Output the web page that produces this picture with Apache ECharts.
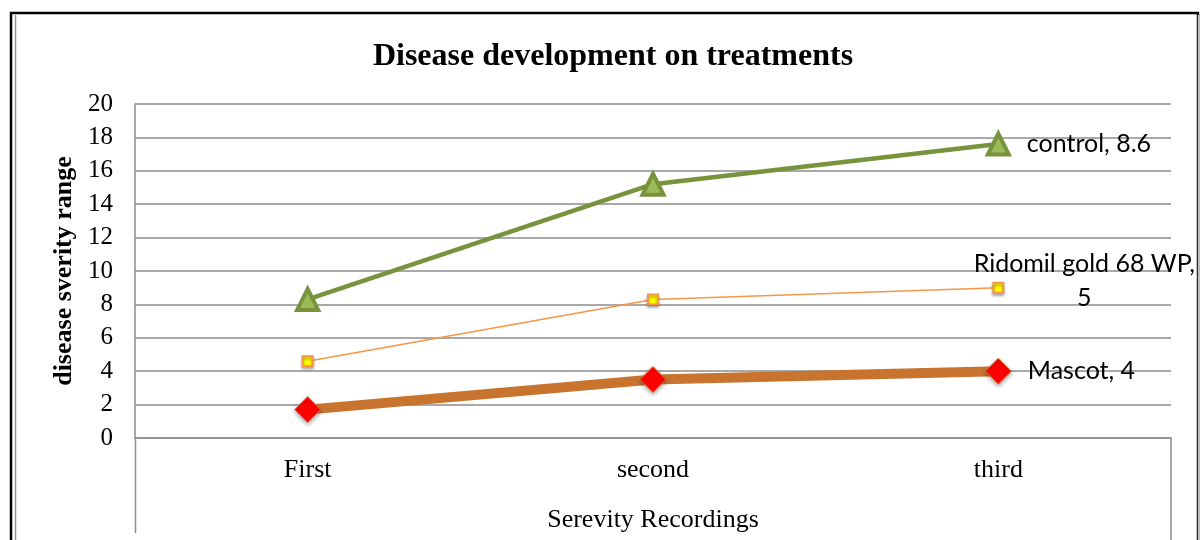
<!DOCTYPE html>
<html>
<head>
<meta charset="utf-8">
<script src="https://cdn.jsdelivr.net/npm/echarts@6/dist/echarts.min.js"></script>
<style>
  html, body { margin: 0; padding: 0; background: #fff; }
  #chart { width: 1200px; height: 540px; }
</style>
</head>
<body>
<div id="chart"></div>
<script>
// categories and values
var categories = ["First", "second", "third"];
var controlData = [8.3, 15.2, 17.6];
var ridomilData = [4.6, 8.3, 9.0];
var mascotData = [1.7, 3.5, 4.0];
var yTicks = { min: 0, max: 20, interval: 2 };

var chart = echarts.init(document.getElementById("chart"));

var serif = "Liberation Serif";
var sans = "Lato";
var gridColor = "#8c8c8c";

function endLabel(opts) {
  return Object.assign({
    show: true,
    position: "right",
    distance: 16,
    fontFamily: sans,
    fontSize: 25,
    color: "#000"
  }, opts);
}

chart.setOption({
  backgroundColor: "#fff",
  animation: false,
  title: {
    text: "Disease development on treatments",
    left: 608,
    top: 36,
    textAlign: "center",
    textStyle: {
      fontFamily: serif,
      fontWeight: "bold",
      fontSize: 32,
      color: "#000"
    }
  },
  grid: {
    left: 135,
    right: 29,
    top: 104,
    bottom: 102
  },
  xAxis: {
    type: "category",
    data: categories,
    boundaryGap: true,
    name: "Serevity Recordings",
    nameLocation: "middle",
    nameGap: 69,
    nameTextStyle: { fontFamily: serif, fontSize: 26, color: "#000" },
    axisLine: { show: true, lineStyle: { color: gridColor, width: 1.5 } },
    axisTick: { show: false },
    axisLabel: { margin: 19, fontFamily: serif, fontSize: 26, color: "#000" },
    splitLine: { show: false }
  },
  yAxis: {
    type: "value",
    min: yTicks.min,
    max: yTicks.max,
    interval: yTicks.interval,
    name: "disease sverity range",
    nameLocation: "middle",
    nameGap: 58,
    nameTextStyle: { fontFamily: serif, fontSize: 26, fontWeight: "bold", color: "#000" },
    axisLine: { show: true, lineStyle: { color: gridColor, width: 1.5 } },
    axisTick: { show: false },
    axisLabel: { margin: 22, fontFamily: serif, fontSize: 25, color: "#000" },
    splitLine: { show: true, lineStyle: { color: gridColor, width: 1.5 } }
  },
  graphic: [
    // chart frame
    { type: "rect", shape: { x: 11, y: 13, width: 1187, height: 540 }, style: { fill: "none", stroke: "#000", lineWidth: 2.5 }, z: 100 },
    { type: "line", shape: { x1: 15.5, y1: 15, x2: 15.5, y2: 540 }, style: { stroke: "#999", lineWidth: 1.5 }, z: 100 },
    { type: "line", shape: { x1: 1198.5, y1: 15, x2: 1198.5, y2: 540 }, style: { stroke: "#bbb", lineWidth: 1.5 }, z: 100 },
    // axis box below the plot
    { type: "line", shape: { x1: 135.5, y1: 438, x2: 135.5, y2: 533 }, style: { stroke: gridColor, lineWidth: 1.5 }, z: 100 },
    { type: "line", shape: { x1: 1171, y1: 438, x2: 1171, y2: 540 }, style: { stroke: gridColor, lineWidth: 1.5 }, z: 100 }
  ],
  series: [
    {
      name: "Mascot",
      type: "line",
      data: mascotData,
      symbol: "diamond",
      symbolSize: 26,
      lineStyle: { color: "#c8742f", width: 10 },
      itemStyle: {
        color: "#ff0000",
        borderColor: "#e07a30",
        borderWidth: 1,
        shadowColor: "rgba(0,0,0,0.35)",
        shadowBlur: 4,
        shadowOffsetY: 2
      },
      label: endLabel({
        formatter: function (p) {
          return p.dataIndex === categories.length - 1 ? "Mascot, 4" : "";
        }
      }),
      z: 3
    },
    {
      name: "Ridomil gold 68 WP",
      type: "line",
      data: ridomilData,
      symbol: "rect",
      symbolSize: 10,
      lineStyle: { color: "#f79646", width: 1.5 },
      itemStyle: {
        color: "#ffff00",
        borderColor: "#f79646",
        borderWidth: 2,
        shadowColor: "rgba(0,0,0,0.35)",
        shadowBlur: 3,
        shadowOffsetY: 2
      },
      label: endLabel({
        align: "center",
        distance: 0,
        offset: [80, -7],
        lineHeight: 34,
        formatter: function (p) {
          return p.dataIndex === categories.length - 1 ? "Ridomil gold 68 WP,\n5" : "";
        }
      }),
      z: 4
    },
    {
      name: "control",
      type: "line",
      data: controlData,
      symbol: "triangle",
      symbolSize: 21,
      lineStyle: { color: "#77933c", width: 4.5 },
      itemStyle: {
        color: "#9bbb59",
        borderColor: "#77933c",
        borderWidth: 4
      },
      label: endLabel({
        formatter: function (p) {
          return p.dataIndex === categories.length - 1 ? "control, 8.6" : "";
        }
      }),
      z: 5
    }
  ]
});
</script>
</body>
</html>
